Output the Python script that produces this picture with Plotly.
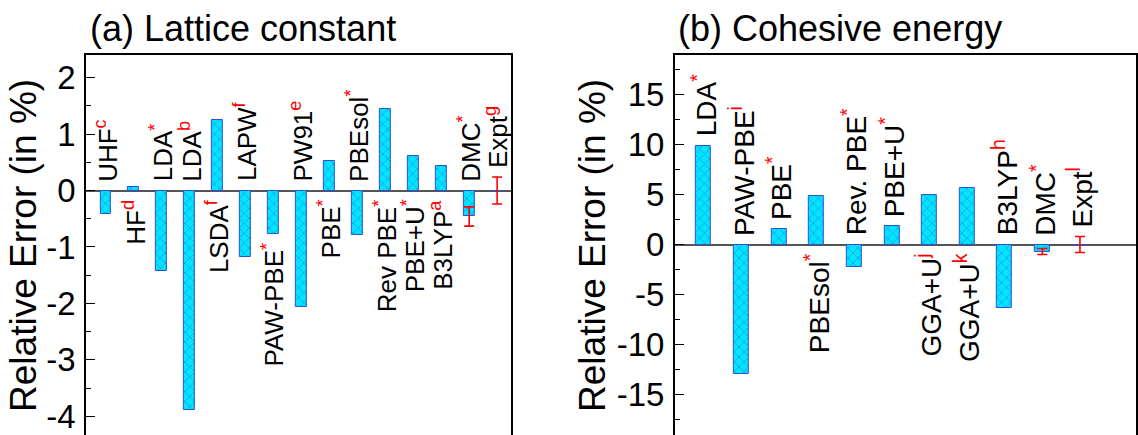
import plotly.graph_objects as go

# ---------------- data ----------------
# (a) Lattice constant
methods_a = ["UHF", "HF", "LDA", "LDA", "LSDA", "LAPW", "PAW-PBE", "PW91", "PBE",
             "PBEsol", "Rev PBE", "PBE+U", "B3LYP", "DMC", "Expt"]
refs_a = ["c", "d", "*", "b", "f", "f", "*", "e", "*", "*", "*", "*", "a", "*", "g"]
values_a = [-0.42, 0.07, -1.43, -3.88, 1.25, -1.18, -0.77, -2.06, 0.52,
            -0.79, 1.44, 0.62, 0.43, -0.46, 0.0]
errors_a = [0, 0, 0, 0, 0, 0, 0, 0, 0, 0, 0, 0, 0, 0.17, 0.24]
sides_a = ["up", "down", "up", "up", "down", "up", "down", "up", "down",
           "up", "down", "down", "down", "up", "up"]
ticks_a = [-4, -3, -2, -1, 0, 1, 2]

# (b) Cohesive energy
methods_b = ["LDA", "PAW-PBE", "PBE", "PBEsol", "Rev. PBE", "PBE+U", "GGA+U",
             "GGA+U", "B3LYP", "DMC", "Expt"]
refs_b = ["*", "i", "*", "*", "*", "*", "j", "k", "h", "*", "l"]
values_b = [9.9, -12.95, 1.55, 4.9, -2.2, 1.85, 5.0, 5.7, -6.3, -0.7, 0.0]
errors_b = [0, 0, 0, 0, 0, 0, 0, 0, 0, 0.3, 0.8]
sides_b = ["up", "up", "up", "down", "up", "up", "down", "down", "up", "up", "up"]
ticks_b = [-15, -10, -5, 0, 5, 10, 15]

# ---------------- styling ----------------
W, H = 1138, 435
TOP = 55
FONT = "Liberation Sans, Arial, Helvetica, sans-serif"
CYAN = "#00e6ff"
BLUE = "#2f4fd8"

fig = go.Figure()


def add_panel(methods, refs, values, errors, sides, xa, ya, bar_w, lab_size):
    xs = list(range(len(methods)))
    fig.add_trace(go.Bar(
        x=xs, y=values, width=bar_w, xaxis=xa, yaxis=ya,
        marker=dict(color=CYAN, line=dict(color=BLUE, width=1),
                    pattern=dict(shape="x", fgcolor=BLUE, bgcolor=CYAN,
                                 size=7, solidity=0.22)),
        showlegend=False, hoverinfo="skip"))
    ex = [x for x, e in zip(xs, errors) if e > 0]
    ey = [v for v, e in zip(values, errors) if e > 0]
    ee = [e for e in errors if e > 0]
    fig.add_trace(go.Scatter(
        x=ex, y=ey, xaxis=xa, yaxis=ya, mode="markers",
        marker=dict(size=1, color="red", opacity=0),
        error_y=dict(type="data", array=ee, color="red", thickness=1.6, width=5),
        showlegend=False, hoverinfo="skip"))
    for x, m, r, v, e, s in zip(xs, methods, refs, values, errors, sides):
        txt = f"{m}<sup><span style='color:red'>{r}</span></sup>"
        if s == "up":
            base = max(v + e, 0)
            fig.add_annotation(x=x, y=base, xref=xa, yref=ya, text=txt,
                               textangle=-90, showarrow=False, xanchor="center",
                               yanchor="bottom", yshift=7,
                               font=dict(family=FONT, size=lab_size, color="black"))
        else:
            base = min(v - e, 0)
            fig.add_annotation(x=x, y=base, xref=xa, yref=ya, text=txt,
                               textangle=-90, showarrow=False, xanchor="center",
                               yanchor="top", yshift=-7,
                               font=dict(family=FONT, size=lab_size, color="black"))


add_panel(methods_a, refs_a, values_a, errors_a, sides_a, "x", "y", 0.39, 26)
add_panel(methods_b, refs_b, values_b, errors_b, sides_b, "x2", "y2", 0.40, 28)

yax_common = dict(
    ticks="inside", ticklen=9, tickwidth=1.3, tickcolor="black",
    showline=True, linecolor="black", linewidth=1.5, mirror=True,
    showgrid=False, zeroline=True, zerolinecolor="#555555", zerolinewidth=2,
    tickfont=dict(family=FONT, size=33, color="black"),
    ticklabelstandoff=2,
)
xax_common = dict(
    side="top", showline=True, linecolor="black", linewidth=1.5,
    showticklabels=False, ticks="", showgrid=False, zeroline=False,
)

fig.update_layout(
    width=W, height=H,
    margin=dict(l=0, r=0, t=TOP, b=0),
    paper_bgcolor="white", plot_bgcolor="white",
    bargap=0,
    xaxis=dict(domain=[86 / W, 512 / W], range=[-0.714, 14.5], **xax_common),
    yaxis=dict(domain=[0, 1], range=[-4.33, 2.40], tickvals=ticks_a,
               ticktext=[str(t) for t in ticks_a],
               minor=dict(ticks="inside", ticklen=5, dtick=0.5, tickcolor="black"),
               **yax_common),
    xaxis2=dict(domain=[676 / W, 1.0], range=[-0.77, 11.49], anchor="y2", **xax_common),
    yaxis2=dict(domain=[0, 1], range=[-19.05, 18.95], anchor="x2", tickvals=ticks_b,
                ticktext=[str(t) for t in ticks_b],
                minor=dict(ticks="inside", ticklen=5, dtick=2.5, tickcolor="black"),
                **yax_common),
)

# panel titles
for x0, t in [(88, "(a) Lattice constant"), (677, "(b) Cohesive energy")]:
    fig.add_annotation(x=x0 / W, y=1 + (TOP - 28) / (H - TOP), xref="paper", yref="paper",
                       text=t, showarrow=False, xanchor="left", yanchor="middle",
                       font=dict(family=FONT, size=36, color="black"))

# axis titles
for xc in (23, 593):
    fig.add_annotation(x=xc / W, y=1 - (245 - TOP) / (H - TOP), xref="paper", yref="paper",
                       text="Relative Error (in %)", textangle=-90, showarrow=False,
                       xanchor="center", yanchor="middle",
                       font=dict(family=FONT, size=37, color="black"))

fig.write_html("out.html")
